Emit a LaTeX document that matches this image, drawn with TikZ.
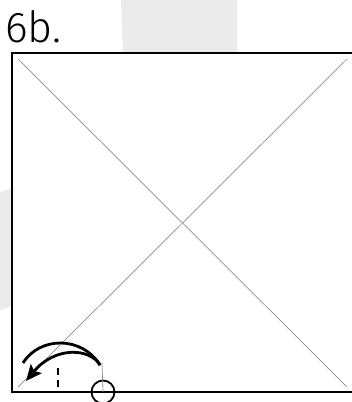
\documentclass[tikz,border=0pt]{standalone}
\usepackage{fontspec}
\setmainfont{Fira Sans}[UprightFont=* Light]
\usetikzlibrary{arrows.meta, positioning}

\begin{document}
\begin{tikzpicture}[
        x=1pt, y=-1pt,
        frame/.style={draw=black, line width=1.8pt},
        crease/.style={draw=black!45, line width=0.7pt},
        move/.style={draw=black, line width=2.8pt},
        arrow/.style={move, -{Stealth[length=16pt, width=14pt, inset=3pt]}},
        mark line/.style={draw=black, line width=1.9pt, dash pattern=on 7pt off 5pt},
        shade/.style={fill=black!8, draw=none}
    ]
    \useasboundingbox (0,0) rectangle (352,402);

    % faint background shapes
    \fill[shade] (121,0) -- (237,0) -- (237,52) -- (123,52) -- cycle;
    \fill[shade] (0,192) .. controls (4,191) and (8,189) .. (12,188) -- (12,306) -- (0,310) -- cycle;

    % Nodes
    \node[anchor=base west, inner sep=0pt, font=\fontsize{43}{43}\selectfont] (title) at (5,42) {6b.};
    \coordinate (tl) at (12,53);
    \coordinate (br) at (356,392);
    \coordinate (ctl) at (18,59);
    \coordinate (ctr) at (347,59);
    \coordinate (cbl) at (18,387);
    \coordinate (cbr) at (347,387);
    \node[circle, draw=black, line width=1.8pt, minimum size=23pt, inner sep=0pt] (pivot) at (103,392) {};
    \coordinate (pivtop) at (102,363);
    \coordinate (ticktop) at (58,368);
    \coordinate (tickbot) at (58,392);
    \coordinate (start) at (100,365);
    \coordinate (tip) at (26,381);

    % Square and creases
    \draw[crease] (ctl) -- (cbr);
    \draw[crease] (ctr) -- (cbl);
    \draw[frame] (tl) rectangle (br);

    % Fold marks
    \draw[crease] (pivtop) -- (pivot.center);
    \draw[mark line] (ticktop) -- (tickbot);
    \draw[move] (23,363) .. controls (40,336) and (82,336) .. (100,365);
    \draw[arrow] (start) .. controls (90,348) and (55,346) .. (tip);

    \end{tikzpicture}
\end{document}
